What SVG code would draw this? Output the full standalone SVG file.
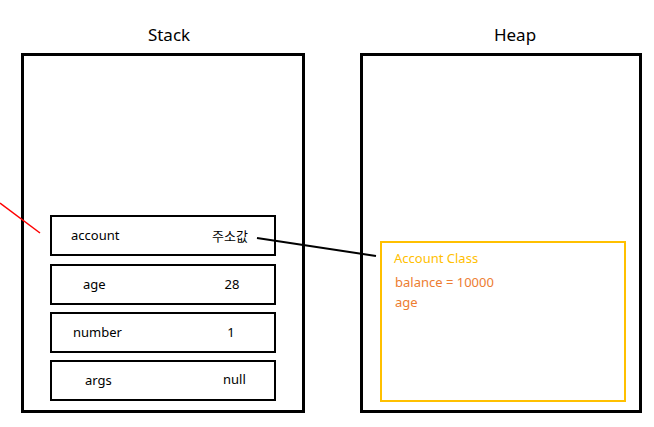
<svg xmlns="http://www.w3.org/2000/svg" width="654" height="427" viewBox="0 0 654 427">
<style>
.title{font-family:"Noto Sans","Noto Sans CJK KR",sans-serif;font-size:17px;fill:#000}
.lbl{font-family:"Noto Sans","Noto Sans CJK KR",sans-serif;font-size:13px;fill:#000}
.outer{fill:#fff;stroke:#000;stroke-width:3}
.slot{fill:#fff;stroke:#000;stroke-width:2}
.obj{fill:#fff;stroke:#FFC000;stroke-width:2}
.cls{font-family:"Noto Sans","Noto Sans CJK KR",sans-serif;font-size:13px;fill:#FFC000}
.fld{font-family:"Noto Sans","Noto Sans CJK KR",sans-serif;font-size:13px;fill:#ED7D31}
</style>
<rect width="654" height="427" fill="#fff"/>
<g id="stack">
<rect class="outer" x="22.5" y="54.5" width="281" height="357"/>
<text class="title" x="169" y="41" text-anchor="middle">Stack</text>
</g>
<g id="heap">
<rect class="outer" x="361.5" y="54.5" width="279" height="357"/>
<text class="title" x="515" y="41" text-anchor="middle">Heap</text>
</g>
<g id="slot-account">
<rect class="slot" x="51" y="216" width="224" height="39"/>
<text class="lbl" x="71" y="240">account</text>
<text class="lbl" x="212" y="241">주소값</text>
</g>
<g id="slot-age">
<rect class="slot" x="51" y="265" width="224" height="39"/>
<text class="lbl" x="83" y="289">age</text>
<text class="lbl" x="232" y="289" text-anchor="middle">28</text>
</g>
<g id="slot-number">
<rect class="slot" x="51" y="313" width="224" height="39"/>
<text class="lbl" x="73" y="337">number</text>
<text class="lbl" x="231" y="337" text-anchor="middle">1</text>
</g>
<g id="slot-args">
<rect class="slot" x="51" y="361" width="224" height="39"/>
<text class="lbl" x="85" y="385">args</text>
<text class="lbl" x="223" y="384">null</text>
</g>
<g id="account-object">
<rect class="obj" x="381" y="242" width="244" height="159"/>
<text class="cls" x="394" y="263">Account Class</text>
<text class="fld" x="395" y="287">balance = 10000</text>
<text class="fld" x="395" y="307">age</text>
</g>
<g id="connectors">
<line x1="257" y1="238" x2="376" y2="256" stroke="#000" stroke-width="2"/>
<line x1="0" y1="203" x2="40" y2="233" stroke="#FF0000" stroke-width="1.5"/>
</g>
</svg>
